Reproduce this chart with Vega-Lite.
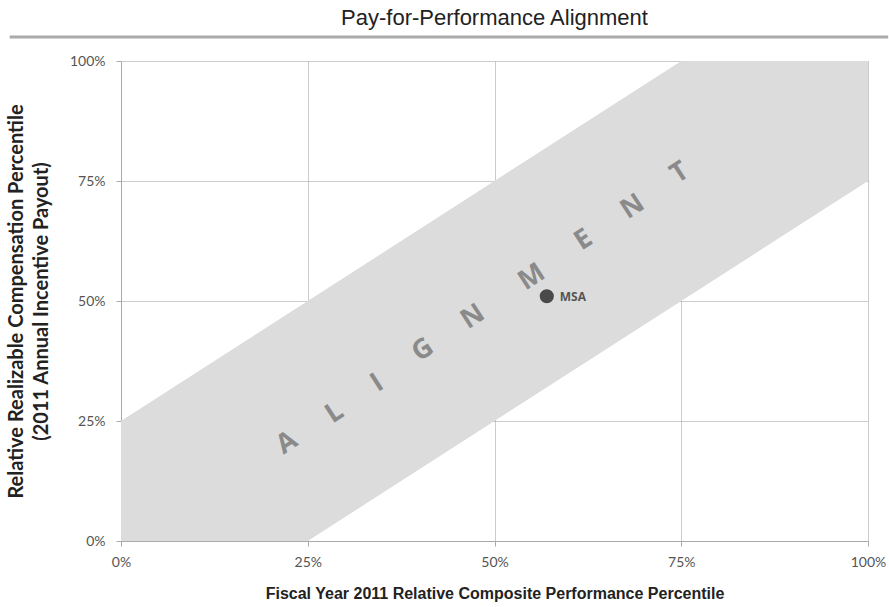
{
  "$schema": "https://vega.github.io/schema/vega-lite/v6.json",
  "width": 747,
  "height": 480,
  "autosize": {"type": "none"},
  "padding": {"left": 121, "top": 61, "right": 21, "bottom": 66},
  "background": "white",
  "title": {
    "text": "Pay-for-Performance Alignment",
    "font": "Liberation Sans",
    "fontSize": 22,
    "fontWeight": "normal",
    "color": "#222",
    "anchor": "middle",
    "offset": 6
  },
  "config": {
    "view": {"stroke": null},
    "axis": {
      "gridColor": "#999",
      "gridOpacity": 0.5,
      "domainColor": "#aaa",
      "tickColor": "#aaa",
      "tickSize": 5,
      "labelFont": "Lato",
      "labelFontSize": 14,
      "labelColor": "#555",
      "labelFlush": false,
      "titleFontWeight": "bold",
      "titleColor": "#222",
      "zindex": 1
    }
  },
  "datasets": {
    "band": [
      {"x": 0, "upper": 0.25, "lower": 0},
      {"x": 0.25, "upper": 0.5, "lower": 0},
      {"x": 0.75, "upper": 1, "lower": 0.5},
      {"x": 1, "upper": 1, "lower": 0.75}
    ],
    "letters": [
      {"letter": "A", "x": 0.222, "y": 0.204},
      {"letter": "L", "x": 0.286, "y": 0.267},
      {"letter": "I", "x": 0.343, "y": 0.329},
      {"letter": "G", "x": 0.404, "y": 0.398},
      {"letter": "N", "x": 0.471, "y": 0.467},
      {"letter": "M", "x": 0.550, "y": 0.550},
      {"letter": "E", "x": 0.619, "y": 0.627},
      {"letter": "N", "x": 0.685, "y": 0.696},
      {"letter": "T", "x": 0.748, "y": 0.767}
    ],
    "points": [{"name": "MSA", "x": 0.57, "y": 0.51}],
    "rule": [{"x": -0.149, "x2": 1.027, "y": 1.05}]
  },
  "layer": [
    {
      "data": {"name": "band"},
      "mark": {"type": "area", "color": "#dcdcdc", "opacity": 1},
      "encoding": {
        "x": {
          "field": "x", "type": "quantitative",
          "scale": {"domain": [0, 1], "nice": false},
          "axis": {
            "values": [0, 0.25, 0.5, 0.75, 1],
            "format": ".0%",
            "title": "Fiscal Year 2011 Relative Composite Performance Percentile",
            "titleFont": "Liberation Sans",
            "titleFontSize": 16,
            "titlePadding": 16,
            "labelPadding": 9
          }
        },
        "y": {
          "field": "upper", "type": "quantitative",
          "scale": {"domain": [0, 1], "nice": false},
          "axis": {
            "values": [0, 0.25, 0.5, 0.75, 1],
            "format": ".0%",
            "title": ["Relative Realizable Compensation Percentile", "(2011 Annual Incentive Payout)"],
            "titleFont": "Lato",
            "titleFontSize": 20,
            "titleLineHeight": 25,
            "titlePadding": 18,
            "labelPadding": 11
          }
        },
        "y2": {"field": "lower"}
      }
    },
    {
      "data": {"name": "letters"},
      "mark": {
        "type": "text",
        "font": "Open Sans",
        "fontWeight": "bold",
        "fontSize": 27,
        "color": "#8a8a8a",
        "angle": -33,
        "align": "center",
        "baseline": "middle"
      },
      "encoding": {
        "x": {"field": "x", "type": "quantitative"},
        "y": {"field": "y", "type": "quantitative"},
        "text": {"field": "letter"}
      }
    },
    {
      "data": {"name": "points"},
      "mark": {"type": "circle", "size": 200, "color": "#4a4a4a", "opacity": 1},
      "encoding": {
        "x": {"field": "x", "type": "quantitative"},
        "y": {"field": "y", "type": "quantitative"}
      }
    },
    {
      "data": {"name": "points"},
      "mark": {
        "type": "text",
        "font": "Open Sans",
        "fontWeight": "bold",
        "fontSize": 12,
        "color": "#555",
        "align": "left",
        "dx": 13,
        "dy": 1
      },
      "encoding": {
        "x": {"field": "x", "type": "quantitative"},
        "y": {"field": "y", "type": "quantitative"},
        "text": {"field": "name"}
      }
    },
    {
      "data": {"name": "rule"},
      "mark": {"type": "rule", "color": "#aaa", "strokeWidth": 3, "clip": false},
      "encoding": {
        "x": {"field": "x", "type": "quantitative"},
        "x2": {"field": "x2"},
        "y": {"field": "y", "type": "quantitative"}
      }
    }
  ]
}
